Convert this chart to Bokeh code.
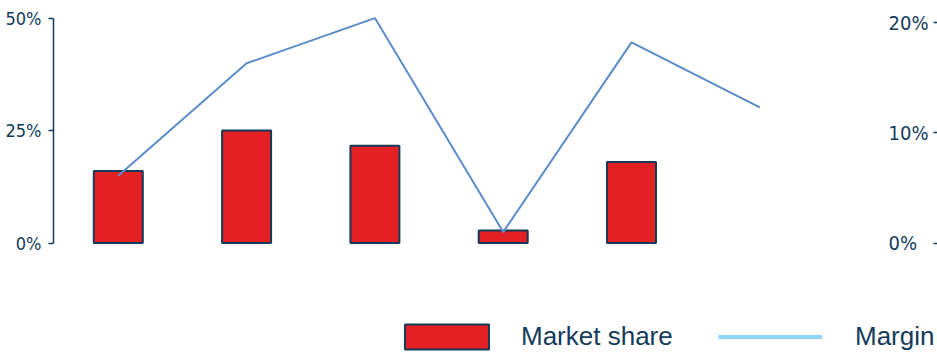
from bokeh.plotting import figure
from bokeh.models import (Range1d, LinearAxis, FixedTicker, NumeralTickFormatter,
                          Legend, LegendItem)
from bokeh.embed import file_html
from bokeh.resources import INLINE

# ---- data ----
categories = ["1", "2", "3", "4", "5", "6"]
market_share = [0.160, 0.250, 0.216, 0.028, 0.180, None]
margin = [0.061, 0.163, 0.204, 0.010, 0.182, 0.123]
left_ticks = [0, 0.25, 0.5]
right_ticks = [0, 0.1, 0.2]

NAVY = "#143b5a"
RED = "#e32024"
BLUE = "#5b8cc8"
LIGHT = "#8fd4f8"
FONT_N = "DejaVu Sans Condensed"
FONT = "Liberation Sans"

idx = list(range(len(categories)))
bar_x = [i for i, v in zip(idx, market_share) if v is not None]
bar_top = [v for v in market_share if v is not None]

p = figure(width=937, height=353, output_backend="svg", toolbar_location=None,
           x_range=Range1d(-0.505, 6.385), y_range=Range1d(-0.2452, 0.5389),
           min_border_left=53, min_border_right=0, min_border_top=0, min_border_bottom=0,
           x_axis_location=None, y_axis_location=None)
p.extra_y_ranges = {"right": Range1d(-0.1001, 0.21995)}
p.outline_line_color = None
p.grid.visible = False

la = LinearAxis(ticker=FixedTicker(ticks=left_ticks), formatter=NumeralTickFormatter(format="0%"),
                bounds=(0, 0.5), axis_line_color=NAVY, axis_line_width=1.5,
                major_tick_line_color=NAVY, major_tick_line_width=1.5,
                major_tick_out=5, major_tick_in=0, minor_tick_out=0, minor_tick_in=0,
                minor_tick_line_color=None,
                major_label_standoff=7, major_label_text_font=FONT_N,
                major_label_text_font_size="18px", major_label_text_color=NAVY)
p.add_layout(la, "left")

ra = LinearAxis(y_range_name="right", ticker=FixedTicker(ticks=right_ticks),
                formatter=NumeralTickFormatter(format="0%"),
                axis_line_color=None, major_tick_line_color=NAVY, major_tick_line_width=1.5,
                major_tick_out=0, major_tick_in=4, minor_tick_out=0, minor_tick_in=0,
                minor_tick_line_color=None,
                major_label_standoff=-49, major_label_text_font=FONT_N,
                major_label_text_font_size="20px", major_label_text_color=NAVY)
p.add_layout(ra, "right")

bars = p.vbar(x=bar_x, top=bar_top, bottom=0, width=0.382, fill_color=RED,
              line_color=NAVY, line_width=2)
p.line(x=idx, y=margin, y_range_name="right", line_color=BLUE, line_width=2)
# legend swatch for the margin series (single point: draws no visible segment)
lg_line = p.line(x=idx[:1], y=margin[:1], y_range_name="right", line_color=LIGHT, line_width=4)

common = dict(orientation="horizontal", glyph_height=31, padding=0, margin=0,
              border_line_color=None, background_fill_alpha=0, label_text_font=FONT,
              label_text_font_size="26px", label_text_color=NAVY)
leg1 = Legend(items=[LegendItem(label="Market share", renderers=[bars])],
              location=(341, 1), glyph_width=105, label_standoff=22, **common)
leg2 = Legend(items=[LegendItem(label="Margin", renderers=[lg_line])],
              location=(665, 1), glyph_width=104, label_standoff=33, **common)
p.add_layout(leg1, "center")
p.add_layout(leg2, "center")

open("out.html", "w").write(file_html(p, INLINE))
